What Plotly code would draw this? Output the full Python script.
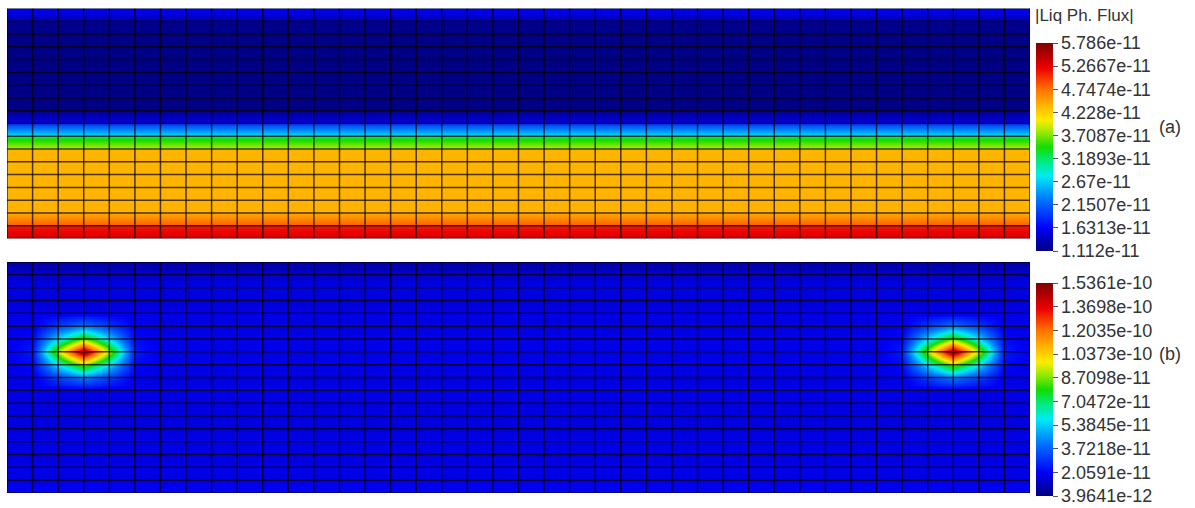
import plotly.graph_objects as go

W, H = 1195, 508
NX, NY = 40, 18  # mesh elements across / down

# ---- colour-bar tick labels (as printed) ----
a_ticks = ["1.112e-11", "1.6313e-11", "2.1507e-11", "2.67e-11", "3.1893e-11",
           "3.7087e-11", "4.228e-11", "4.7474e-11", "5.2667e-11", "5.786e-11"]
b_ticks = ["3.9641e-12", "2.0591e-11", "3.7218e-11", "5.3845e-11", "7.0472e-11",
           "8.7098e-11", "1.0373e-10", "1.2035e-10", "1.3698e-10", "1.5361e-10"]
UNIT = 1e-11

# ---- panel (a): per element row (top -> bottom), value at top and bottom edge, units 1e-11 ----
a_elem_top = [1.67, 1.16, 1.14, 1.13, 1.13, 1.13, 1.13, 1.13, 1.14,
              1.95, 3.30, 4.38, 4.38, 4.38, 4.38, 4.38, 4.45, 5.10]
a_elem_bottom = [1.28, 1.14, 1.13, 1.13, 1.13, 1.13, 1.13, 1.13, 1.60,
                 2.80, 3.85, 4.38, 4.38, 4.38, 4.38, 4.40, 4.85, 5.35]

# ---- panel (b): nodal values, units 1e-11 ----
b_row_bg = [0.9, 1.5, 1.8, 1.6, 1.9, 1.7, 1.9, 1.8, 1.9, 1.7,
            1.9, 1.7, 1.8, 1.7, 1.9, 1.7, 1.9, 1.8, 2.2]
b_hot_cols = [3, 37]
b_hot_row = 7
b_hot_patch = [
    [1.9, 3.1, 4.1, 3.1, 1.9],
    [2.2, 5.6, 8.6, 5.6, 2.2],
    [2.5, 9.1, 15.2, 9.1, 2.5],
    [2.2, 5.6, 8.6, 5.6, 2.2],
    [1.9, 3.1, 4.1, 3.1, 1.9],
]

cs = [
    [0.0, "rgb(0,0,130)"],
    [0.11, "rgb(0,0,245)"],
    [0.25, "rgb(0,120,255)"],
    [0.36, "rgb(0,235,245)"],
    [0.43, "rgb(0,235,130)"],
    [0.5, "rgb(20,220,0)"],
    [0.58, "rgb(170,235,0)"],
    [0.63, "rgb(255,235,0)"],
    [0.7, "rgb(255,180,0)"],
    [0.78, "rgb(255,110,0)"],
    [0.88, "rgb(235,0,0)"],
    [1.0, "rgb(128,0,0)"],
]

FONT = "Liberation Sans, Arial, sans-serif"


def cbar(ticks, top_px, bot_px):
    vals = [float(t) / UNIT for t in ticks]
    return vals, dict(
        x=1036 / W, xanchor="left", xpad=0,
        y=1 - (top_px + bot_px) / 2 / H, yanchor="middle", ypad=0,
        len=bot_px - top_px, lenmode="pixels",
        thickness=17, thicknessmode="pixels", outlinewidth=0,
        tickmode="array", tickvals=vals, ticktext=ticks,
        ticks="outside", ticklen=5, tickwidth=1, tickcolor="#555",
        tickfont=dict(family=FONT, size=18, color="#333"),
    )


fig = go.Figure()

# panel (a)
ya, za = [], []
for e, (t, b) in enumerate(zip(a_elem_top, a_elem_bottom)):
    ya += [e + 0.02, e + 0.98]
    za += [[t, t], [b, b]]
a_vals, a_cb = cbar(a_ticks, 43, 251)
fig.add_trace(go.Heatmap(x=[0, NX], y=ya, z=za, zsmooth="best", colorscale=cs,
                         zmin=a_vals[0], zmax=a_vals[-1], colorbar=a_cb,
                         xaxis="x", yaxis="y", hoverinfo="skip"))

# panel (b)
zb = [[v] * (NX + 1) for v in b_row_bg]
for c in b_hot_cols:
    for i, row in enumerate(b_hot_patch):
        for j, v in enumerate(row):
            zb[b_hot_row - 2 + i][c - 2 + j] = v
b_vals, b_cb = cbar(b_ticks, 283, 496)
fig.add_trace(go.Heatmap(x=list(range(NX + 1)), y=list(range(NY + 1)), z=zb,
                         zsmooth="best", colorscale=cs,
                         zmin=b_vals[0], zmax=b_vals[-1], colorbar=b_cb,
                         xaxis="x2", yaxis="y2", hoverinfo="skip"))

# mesh lines
gx, gy = [], []
for i in range(NX + 1):
    gx += [i, i, None]
    gy += [0, NY, None]
for j in range(NY + 1):
    gx += [0, NX, None]
    gy += [j, j, None]
for xa, yax in (("x", "y"), ("x2", "y2")):
    fig.add_trace(go.Scatter(x=gx, y=gy, mode="lines", xaxis=xa, yaxis=yax,
                             line=dict(color="rgba(10,0,0,0.72)", width=1.5),
                             showlegend=False, hoverinfo="skip"))

xd = [7 / W, 1030 / W]
ax = dict(visible=False, range=[0, NX], fixedrange=True)
fig.update_layout(
    width=W, height=H, margin=dict(l=0, r=0, t=0, b=0),
    paper_bgcolor="white", plot_bgcolor="white", showlegend=False,
    xaxis=dict(ax, domain=xd),
    yaxis=dict(visible=False, range=[NY, 0], domain=[1 - 238.5 / H, 1 - 8.5 / H], fixedrange=True),
    xaxis2=dict(ax, domain=xd, anchor="y2"),
    yaxis2=dict(visible=False, range=[NY, 0], domain=[1 - 493 / H, 1 - 262 / H], anchor="x2", fixedrange=True),
    annotations=[
        dict(text="|Liq Ph. Flux|", x=1033 / W, y=1 - 16 / H, xref="paper", yref="paper",
             xanchor="left", yanchor="middle", showarrow=False,
             font=dict(family=FONT, size=17, color="#333")),
        dict(text="(a)", x=1157 / W, y=1 - 127 / H, xref="paper", yref="paper",
             xanchor="left", yanchor="middle", showarrow=False,
             font=dict(family=FONT, size=18, color="#333")),
        dict(text="(b)", x=1157 / W, y=1 - 354 / H, xref="paper", yref="paper",
             xanchor="left", yanchor="middle", showarrow=False,
             font=dict(family=FONT, size=18, color="#333")),
    ],
)

fig.write_html("out.html", config={"displayModeBar": False},
               post_script="document.body.style.margin='0';document.body.style.overflow='hidden';")
